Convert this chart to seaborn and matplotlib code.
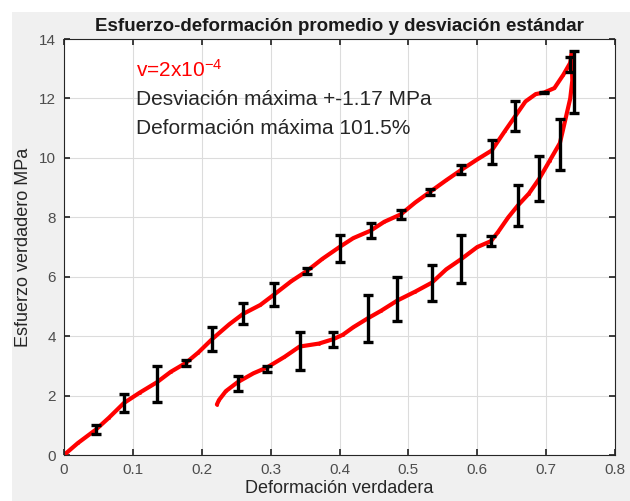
import numpy as np
import pandas as pd
import matplotlib
matplotlib.use('Agg')
import matplotlib.pyplot as plt
import seaborn as sns
from matplotlib.patches import Rectangle

# Curva de carga (rama superior)
carga_x = [0.0, 0.02, 0.046, 0.065, 0.087, 0.11, 0.135, 0.155, 0.177, 0.195, 0.215, 0.24,
           0.26, 0.285, 0.305, 0.33, 0.353, 0.375, 0.40, 0.42, 0.445, 0.465, 0.489, 0.51,
           0.531, 0.555, 0.577, 0.60, 0.621, 0.64, 0.655, 0.67, 0.685, 0.697, 0.712, 0.725,
           0.735, 0.737]
carga_y = [0.0, 0.4, 0.85, 1.25, 1.75, 2.1, 2.45, 2.8, 3.1, 3.45, 3.9, 4.4,
           4.75, 5.05, 5.4, 5.85, 6.2, 6.6, 7.0, 7.3, 7.55, 7.85, 8.1, 8.5,
           8.85, 9.25, 9.6, 9.95, 10.25, 10.9, 11.4, 11.9, 12.15, 12.2, 12.35, 12.8,
           13.2, 13.5]

# Curva de descarga (rama inferior)
descarga_x = [0.737, 0.738, 0.735, 0.728, 0.72, 0.705, 0.69, 0.675, 0.659, 0.645, 0.63,
              0.62, 0.60, 0.577, 0.555, 0.534, 0.51, 0.484, 0.46, 0.441, 0.42, 0.405,
              0.391, 0.37, 0.342, 0.32, 0.295, 0.275, 0.252, 0.235, 0.225, 0.222]
descarga_y = [13.5, 12.6, 12.0, 11.3, 10.5, 9.9, 9.3, 8.8, 8.4, 8.0, 7.5,
              7.2, 7.0, 6.6, 6.25, 5.8, 5.5, 5.2, 4.85, 4.6, 4.3, 4.05,
              3.9, 3.75, 3.65, 3.3, 2.95, 2.75, 2.45, 2.15, 1.85, 1.7]

# Barras de error (centro y semiamplitud)
err_x = [0.046, 0.087, 0.135, 0.177, 0.215, 0.26, 0.305, 0.353, 0.40, 0.445, 0.489,
         0.531, 0.577, 0.621, 0.655, 0.697, 0.735,
         0.252, 0.295, 0.342, 0.391, 0.441, 0.484, 0.534, 0.577, 0.62, 0.659, 0.69,
         0.72, 0.74]
err_y = [0.85, 1.75, 2.4, 3.1, 3.9, 4.75, 5.4, 6.2, 6.95, 7.55, 8.1,
         8.85, 9.6, 10.2, 11.4, 12.2, 13.15,
         2.4, 2.9, 3.5, 3.9, 4.6, 5.25, 5.8, 6.6, 7.2, 8.4, 9.3,
         10.45, 12.55]
err_d = [0.15, 0.3, 0.6, 0.1, 0.4, 0.35, 0.4, 0.1, 0.45, 0.25, 0.15,
         0.1, 0.15, 0.4, 0.5, 0.03, 0.25,
         0.25, 0.1, 0.65, 0.25, 0.8, 0.75, 0.6, 0.8, 0.17, 0.7, 0.75,
         0.85, 1.05]

sns.set_theme(style='whitegrid')
plt.rcParams['font.family'] = ['Liberation Sans', 'DejaVu Sans']
plt.rcParams['mathtext.fontset'] = 'custom'
plt.rcParams['mathtext.rm'] = 'Liberation Sans'
plt.rcParams['mathtext.it'] = 'Liberation Sans'
plt.rcParams['mathtext.default'] = 'regular'

fig = plt.figure(figsize=(6.3, 5.01), dpi=100, facecolor='white')
fig.patches.append(Rectangle((12 / 630, 0), 1, 1 - 12 / 501, transform=fig.transFigure,
                             facecolor='#f0f0f0', edgecolor='none', zorder=-10))
ax = fig.add_axes([0.1016, 0.0918, 0.8746, 0.8302])
ax.set_facecolor('white')

df_carga = pd.DataFrame({'x': carga_x, 'y': carga_y})
df_descarga = pd.DataFrame({'x': descarga_x, 'y': descarga_y})
for df in (df_carga, df_descarga):
    sns.lineplot(data=df, x='x', y='y', sort=False, color='red', linewidth=3,
                 marker='.', markersize=4, markeredgewidth=0, ax=ax)

ax.errorbar(err_x, err_y, yerr=err_d, fmt='none', ecolor='black', elinewidth=2.4,
            capsize=3.5, capthick=2.4, zorder=5)

ax.text(0.104, 12.95, r'v=2x10$^{-4}$', color='red', fontsize=15, va='center')
ax.text(0.104, 11.95, 'Desviación máxima +-1.17 MPa', color='#262626', fontsize=15, va='center')
ax.text(0.104, 11.0, 'Deformación máxima 101.5%', color='#262626', fontsize=15, va='center')

ax.set_xlim(0, 0.8)
ax.set_ylim(0, 14)
ax.set_xticks(np.arange(0, 0.81, 0.1))
ax.set_xticklabels(['0', '0.1', '0.2', '0.3', '0.4', '0.5', '0.6', '0.7', '0.8'])
ax.set_yticks(np.arange(0, 15, 2))
ax.grid(True, color='#dcdcdc', linewidth=0.8)
ax.tick_params(direction='in', length=4, labelsize=11, colors='#262626', top=True, right=True,
               bottom=True, left=True, pad=6)
ax.tick_params(axis='both', labelcolor='#4d4d4d')
for s in ax.spines.values():
    s.set_color('#262626')
    s.set_linewidth(0.8)

ax.set_xlabel('Deformación verdadera', fontsize=13, color='#262626', labelpad=2)
ax.set_ylabel('Esfuerzo verdadero MPa', fontsize=13, color='#262626', labelpad=5)
ax.set_title('Esfuerzo-deformación promedio y desviación estándar', fontsize=13.5,
             fontweight='bold', color='#1a1a1a', pad=6)

fig.savefig('out.png', dpi=100, facecolor=fig.get_facecolor())
